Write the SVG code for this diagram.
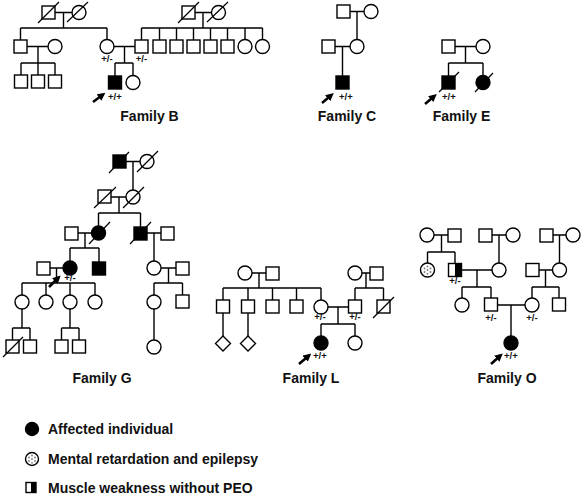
<svg xmlns="http://www.w3.org/2000/svg" width="583" height="495" viewBox="0 0 583 495">
<style>
.l{stroke:#000;stroke-width:1.4;fill:none}
.o{fill:#fff;stroke:#000;stroke-width:1.4}
.f{fill:#000;stroke:#000;stroke-width:1.4}
.s{stroke:#000;stroke-width:1.2}
.ar{stroke:#000;stroke-width:2.6;fill:none}
.t{font-family:"Liberation Sans",Arial,sans-serif;font-weight:bold;font-size:14px;fill:#111}
.g{font-family:"Liberation Sans",Arial,sans-serif;font-weight:bold;font-size:9.5px;fill:#111}
.dt{fill:#777}
</style>
<defs>
<marker id="ah" markerWidth="8" markerHeight="8" refX="5" refY="4" orient="auto" markerUnits="userSpaceOnUse" viewBox="0 0 8 8">
<path d="M0,0 L8,4 L0,8 Z" fill="#000"/>
</marker>
<g id="dots">
<circle class="dt" cx="0" cy="-3.5" r="0.9"/><circle class="dt" cx="-3" cy="-1.5" r="0.9"/><circle class="dt" cx="3" cy="-1.5" r="0.9"/>
<circle class="dt" cx="0" cy="0" r="0.9"/><circle class="dt" cx="-3" cy="2" r="0.9"/><circle class="dt" cx="3" cy="2" r="0.9"/><circle class="dt" cx="0" cy="3.8" r="0.9"/>
</g>
</defs>

<g id="connectors">
<!-- Family B -->
<path class="l" d="M55,12.5H72 M63.5,12.5V28 M20.5,28H107 M20.5,28V40 M107,28V39.5"/>
<path class="l" d="M27,46.5H48 M38,46.5V63 M21,63H55 M21,63V75 M38,63V75 M55,63V75"/>
<path class="l" d="M114,46.5H135 M124.5,46.5V63 M115,63H133 M115,63V76 M133,63V75.5"/>
<path class="l" d="M195,12.5H211.5 M203,12.5V28 M141.5,28H262.5 M141.5,28V40 M159.5,28V40 M176.5,28V40 M193.5,28V40 M210.5,28V40 M227.5,28V40 M245,28V39.5 M262.5,28V39.5"/>
<!-- Family C -->
<path class="l" d="M350,11.5H364 M357,11.5V39.5 M335,46.5H350 M342.5,46.5V76"/>
<!-- Family E -->
<path class="l" d="M455,46.5H476 M465.5,46.5V63 M448.5,63H483 M448.5,63V76 M483,63V75.5"/>
<!-- Family G -->
<path class="l" d="M126,161.5H140 M133,161.5V190 M111,197H126 M119,197V213 M98.5,213H140.5 M98.5,213V226 M140.5,213V227"/>
<path class="l" d="M78,233H91.5 M85,233V248 M70,248H99 M70,248V261 M99,248V262"/>
<path class="l" d="M147,233H161 M154,233V261"/>
<path class="l" d="M50,268H63 M56.5,268V283 M22,283H95 M22,283V295 M46,283V295 M70,283V295 M95,283V295"/>
<path class="l" d="M22,309V328 M12.5,328H30 M12.5,328V340 M30,328V340 M70,309V328 M61.5,328H79 M61.5,328V340 M79,328V340"/>
<path class="l" d="M161,268H176 M168.5,268V283 M154,283H182.5 M154,283V295 M182.5,283V295 M154,309V340"/>
<!-- Family L -->
<path class="l" d="M252,273H266 M259,273V288 M223,288H321 M223,288V300 M248,288V300 M272.5,288V300 M296.5,288V300 M321,288V300"/>
<path class="l" d="M223,313V336 M248,313V336"/>
<path class="l" d="M362,273H370 M366,273V288 M355,288H383.5 M355,288V300 M383.5,288V300"/>
<path class="l" d="M328,307H348.5 M338,307V324 M321,324H355 M321,324V336 M355,324V336"/>
<!-- Family O -->
<path class="l" d="M434,235H448 M441.5,235V252 M427.5,252H455 M427.5,252V263 M455,252V263"/>
<path class="l" d="M492,235H506 M499,235V263"/>
<path class="l" d="M461.5,270H492 M477,270V287 M462,287H491 M462,287V298 M491,287V298"/>
<path class="l" d="M553,235H566 M559.5,235V263"/>
<path class="l" d="M539,270H552.5 M545.5,270V287 M532,287H559 M532,287V298 M559,287V298"/>
<path class="l" d="M497.5,305H525 M511,305V336"/>
</g>

<g id="familyB">
<rect class="o" x="42" y="6" width="13" height="13"/><line class="s" x1="38" y1="23" x2="59" y2="2"/>
<circle class="o" cx="79" cy="12.5" r="7"/><line class="s" x1="67" y1="22" x2="88" y2="2"/>
<rect class="o" x="14" y="40" width="13" height="13"/>
<circle class="o" cx="55" cy="46.5" r="7"/>
<rect class="o" x="14.5" y="75" width="13" height="13"/>
<rect class="o" x="31.5" y="75" width="13" height="13"/>
<rect class="o" x="48.5" y="75" width="13" height="13"/>
<circle class="o" cx="107" cy="46.5" r="7"/>
<text class="g" x="107" y="62" text-anchor="middle">+/-</text>
<rect class="o" x="135" y="40" width="13" height="13"/>
<text class="g" x="141.5" y="62" text-anchor="middle">+/-</text>
<rect class="f" x="108.5" y="76" width="13" height="13"/>
<circle class="o" cx="133" cy="82.5" r="7"/>
<line class="ar" x1="93" y1="102" x2="103" y2="94.5" marker-end="url(#ah)"/>
<text class="g" x="108" y="100">+/+</text>
<rect class="o" x="182" y="6" width="13" height="13"/><line class="s" x1="178" y1="23" x2="199" y2="2"/>
<circle class="o" cx="218.5" cy="12.5" r="7"/><line class="s" x1="207" y1="22" x2="228" y2="2"/>
<rect class="o" x="153" y="40" width="13" height="13"/>
<rect class="o" x="170" y="40" width="13" height="13"/>
<rect class="o" x="187" y="40" width="13" height="13"/>
<rect class="o" x="204" y="40" width="13" height="13"/>
<rect class="o" x="221" y="40" width="13" height="13"/>
<circle class="o" cx="245" cy="46.5" r="7"/>
<circle class="o" cx="262.5" cy="46.5" r="7"/>
<text class="t" x="149.5" y="121" text-anchor="middle">Family B</text>
</g>

<g id="familyC">
<rect class="o" x="337" y="5" width="13" height="13"/>
<circle class="o" cx="371" cy="11.5" r="7"/>
<rect class="o" x="322" y="40" width="13" height="13"/>
<circle class="o" cx="357" cy="46.5" r="7"/>
<rect class="f" x="336" y="76" width="13" height="13"/>
<line class="ar" x1="322" y1="103" x2="331.5" y2="95" marker-end="url(#ah)"/>
<text class="g" x="339" y="100">+/+</text>
<text class="t" x="347" y="121" text-anchor="middle">Family C</text>
</g>

<g id="familyE">
<rect class="o" x="442" y="40" width="13" height="13"/>
<circle class="o" cx="483" cy="46.5" r="7"/>
<rect class="f" x="442" y="76" width="13" height="13"/><line class="s" x1="439" y1="92" x2="459" y2="72"/>
<circle class="f" cx="483" cy="82.5" r="7"/><line class="s" x1="475" y1="92" x2="493" y2="73"/>
<line class="ar" x1="425" y1="104" x2="434.5" y2="96" marker-end="url(#ah)"/>
<text class="g" x="442" y="100">+/+</text>
<text class="t" x="461.5" y="121" text-anchor="middle">Family E</text>
</g>

<g id="familyG">
<rect class="f" x="113" y="155" width="13" height="13"/><line class="s" x1="109" y1="173" x2="129" y2="152"/>
<circle class="o" cx="147" cy="161.5" r="7"/><line class="s" x1="137" y1="172" x2="158" y2="151"/>
<rect class="o" x="98" y="190" width="13" height="13"/><line class="s" x1="94" y1="208" x2="116" y2="187"/>
<circle class="o" cx="133" cy="197" r="7"/><line class="s" x1="123" y1="208" x2="144" y2="187"/>
<rect class="o" x="65" y="227" width="13" height="13"/>
<circle class="f" cx="98.5" cy="233" r="7"/><line class="s" x1="89" y1="244" x2="110" y2="222"/>
<rect class="f" x="134" y="227" width="13" height="13"/><line class="s" x1="130" y1="244" x2="151" y2="222"/>
<rect class="o" x="161" y="227" width="13" height="13"/>
<rect class="o" x="37" y="262" width="13" height="13"/>
<circle class="f" cx="70" cy="268" r="7"/>
<rect class="f" x="92.5" y="262" width="13" height="13"/>
<text class="g" x="70" y="281" text-anchor="middle">+/-</text>
<line class="ar" x1="49" y1="287" x2="58.5" y2="277.5" marker-end="url(#ah)"/>
<circle class="o" cx="22" cy="302" r="7"/>
<circle class="o" cx="46" cy="302" r="7"/>
<circle class="o" cx="70" cy="302" r="7"/>
<circle class="o" cx="95" cy="302" r="7"/>
<rect class="o" x="6" y="340" width="13" height="13"/><line class="s" x1="3" y1="357" x2="23" y2="337"/>
<rect class="o" x="23.5" y="340" width="13" height="13"/>
<rect class="o" x="55" y="340" width="13" height="13"/>
<rect class="o" x="72.5" y="340" width="13" height="13"/>
<circle class="o" cx="154" cy="268" r="7"/>
<rect class="o" x="176" y="262" width="13" height="13"/>
<circle class="o" cx="154" cy="302" r="7"/>
<rect class="o" x="176" y="295" width="13" height="13"/>
<circle class="o" cx="154" cy="347" r="7"/>
<text class="t" x="102" y="382.5" text-anchor="middle">Family G</text>
</g>

<g id="familyL">
<circle class="o" cx="245" cy="273" r="7"/>
<rect class="o" x="266" y="267" width="13" height="13"/>
<rect class="o" x="216.5" y="300" width="13" height="13"/>
<rect class="o" x="241.5" y="300" width="13" height="13"/>
<rect class="o" x="266" y="300" width="13" height="13"/>
<rect class="o" x="290" y="300" width="13" height="13"/>
<circle class="o" cx="321" cy="307" r="7"/>
<text class="g" x="320" y="320" text-anchor="middle">+/-</text>
<polygon class="o" points="223,336 230.5,343.5 223,351 215.5,343.5"/>
<polygon class="o" points="248,336 255.5,343.5 248,351 240.5,343.5"/>
<circle class="o" cx="355" cy="273" r="7"/>
<rect class="o" x="370" y="267" width="13" height="13"/>
<rect class="o" x="348.5" y="300" width="13" height="13"/>
<text class="g" x="355" y="320" text-anchor="middle">+/-</text>
<rect class="o" x="377" y="300" width="13" height="13"/><line class="s" x1="373" y1="318" x2="394" y2="297"/>
<circle class="f" cx="321" cy="343" r="7"/>
<circle class="o" cx="355" cy="343" r="7"/>
<line class="ar" x1="299" y1="364" x2="309" y2="355.5" marker-end="url(#ah)"/>
<text class="g" x="313" y="359">+/+</text>
<text class="t" x="311" y="382.5" text-anchor="middle">Family L</text>
</g>

<g id="familyO">
<circle class="o" cx="427" cy="235" r="7"/>
<rect class="o" x="448" y="229" width="13" height="13"/>
<circle class="o" cx="427.5" cy="270" r="7"/><use href="#dots" x="427.5" y="270"/>
<rect class="o" x="448.5" y="263.5" width="13" height="13"/><rect x="455" y="263.5" width="6.5" height="13" fill="#000"/>
<text class="g" x="455" y="284" text-anchor="middle">+/-</text>
<rect class="o" x="479" y="229" width="13" height="13"/>
<circle class="o" cx="513" cy="235" r="7"/>
<circle class="o" cx="499" cy="270" r="7"/>
<circle class="o" cx="462" cy="305" r="7"/>
<rect class="o" x="484.5" y="298" width="13" height="13"/>
<text class="g" x="491" y="321" text-anchor="middle">+/-</text>
<rect class="o" x="540" y="229" width="13" height="13"/>
<circle class="o" cx="573" cy="235" r="7"/>
<rect class="o" x="526" y="263.5" width="13" height="13"/>
<circle class="o" cx="559.5" cy="270" r="7"/>
<circle class="o" cx="532" cy="305" r="7"/>
<rect class="o" x="552.5" y="298" width="13" height="13"/>
<text class="g" x="532" y="321" text-anchor="middle">+/-</text>
<circle class="f" cx="511" cy="343" r="7"/>
<line class="ar" x1="491" y1="364" x2="500.5" y2="355.5" marker-end="url(#ah)"/>
<text class="g" x="504" y="359">+/+</text>
<text class="t" x="507" y="382.5" text-anchor="middle">Family O</text>
</g>

<g id="legend">
<circle class="f" cx="32" cy="429" r="6.5"/>
<text class="t" x="48" y="434">Affected individual</text>
<circle class="o" cx="32" cy="459" r="6.5"/><use href="#dots" x="32" y="459"/>
<text class="t" x="48" y="464">Mental retardation and epilepsy</text>
<rect class="o" x="26" y="482.5" width="10" height="10"/><rect x="31" y="482.5" width="5" height="10" fill="#000"/>
<text class="t" x="48" y="493">Muscle weakness without PEO</text>
</g>
</svg>
